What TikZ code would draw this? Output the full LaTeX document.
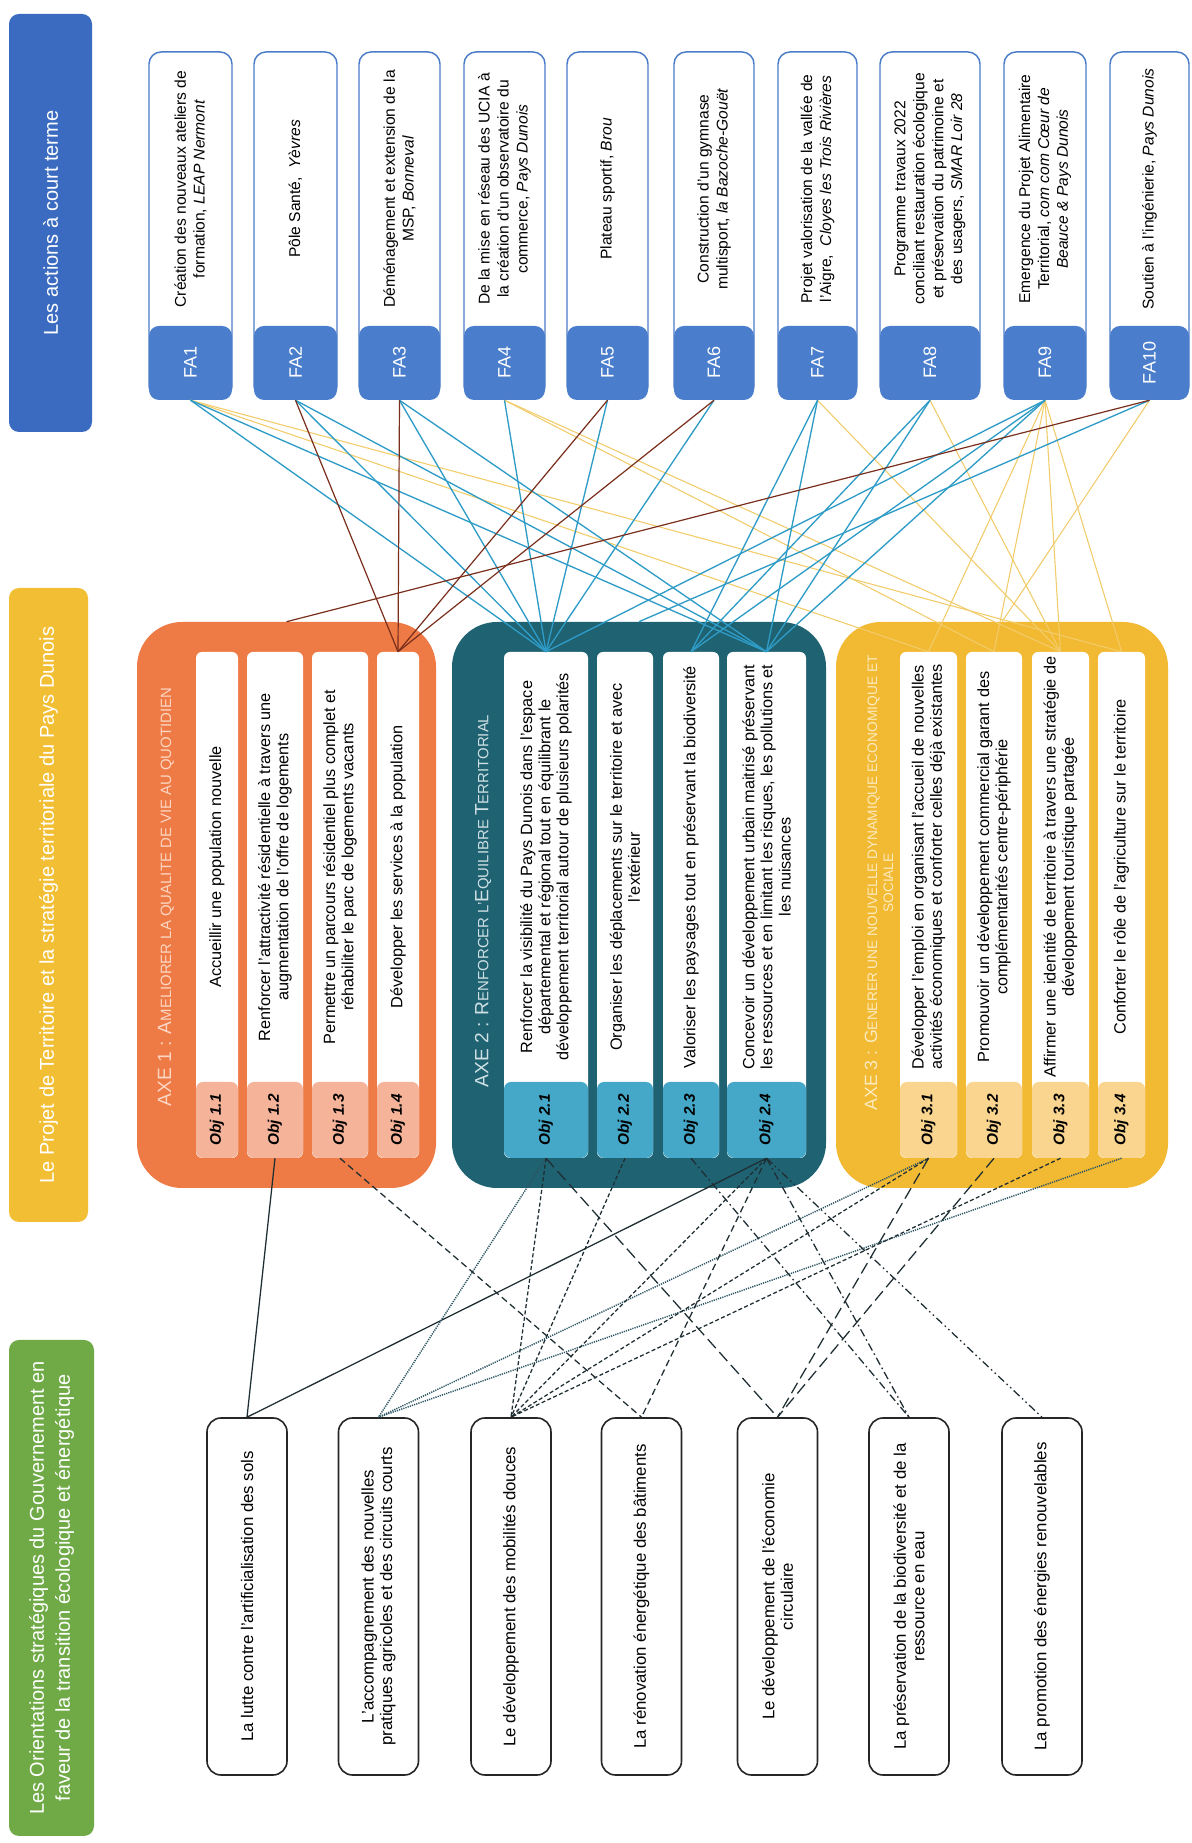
\documentclass[tikz,border=0pt]{standalone}
\usepackage{fontspec}
\setmainfont{Liberation Sans}
\newdimen\pxu \pxu=0.75pt
\definecolor{hblue}{HTML}{3A6BC0}
\definecolor{hyel}{HTML}{F2BE34}
\definecolor{hgreen}{HTML}{6FAA46}
\definecolor{fatabc}{HTML}{4A7ECC}
\definecolor{faline}{HTML}{4A7CC8}
\definecolor{cax1}{HTML}{EE7A45}
\definecolor{cax2}{HTML}{1F6272}
\definecolor{cax3}{HTML}{F2B932}
\definecolor{ctab1}{HTML}{F5B49A}
\definecolor{ctab2}{HTML}{45A8C8}
\definecolor{ctab3}{HTML}{F9D590}
\definecolor{ttl1}{HTML}{FCD6C2}
\definecolor{ttl2}{HTML}{CFE0E4}
\definecolor{ttl3}{HTML}{FDEBC0}
\definecolor{lbrown}{HTML}{7A2E1C}
\definecolor{lblue}{HTML}{2E9CC6}
\definecolor{lyel}{HTML}{F2CC6A}
\definecolor{ldark}{HTML}{1E2E33}
\definecolor{ldot}{HTML}{2C5563}
\newcommand\fhdr{\fontsize{15}{19.5}\selectfont}
\newcommand\ftxt{\fontsize{11.7}{14.2}\selectfont}
\newcommand\frow{\fontsize{12.2}{13.6}\selectfont}
\newcommand\ffa{\fontsize{13.5}{16}\selectfont}
\newcommand\fobj{\fontsize{11.5}{13}\selectfont\bfseries\itshape}
\newcommand\fort{\fontsize{12.6}{14}\selectfont}
\newcommand\ftb{\fontsize{14.4}{16.5}\selectfont}
\newcommand\fts{\fontsize{11.2}{16.5}\selectfont}
\newcommand\ftbb{\fontsize{13.3}{16.5}\selectfont}
\newcommand\ftss{\fontsize{10.3}{16.5}\selectfont}
\begin{document}
\begin{tikzpicture}[x=0.75pt,y=0.75pt,rotate=90,transform shape,
  hdr/.style={rounded corners=10\pxu, text=white, align=center, font=\fhdr, inner sep=0pt},
  fab/.style={draw=faline, line width=1.1pt, fill=white, rounded corners=12\pxu, minimum width=346\pxu, inner sep=0pt},
  fat/.style={fill=fatabc, rounded corners=10\pxu, minimum width=74\pxu, text=white, font=\ffa, inner sep=0pt},
  fax/.style={font=\ftxt, align=center, inner sep=0pt},
  axb/.style={rounded corners=45\pxu, minimum width=566\pxu, inner sep=0pt},
  rowb/.style={fill=white, rounded corners=6\pxu, minimum width=506\pxu, inner sep=0pt},
  otb/.style={rounded corners=7\pxu, minimum width=76\pxu, font=\fobj, inner sep=0pt},
  rtx/.style={font=\frow, align=center, inner sep=0pt},
  orb/.style={draw=black!85, line width=1.2pt, fill=white, rounded corners=14\pxu, minimum width=357\pxu, minimum height=80\pxu, inner sep=0pt, font=\fort, align=center},
  ttl/.style={align=center, inner sep=0pt},
  cb/.style={draw=lbrown, line width=0.9pt},
  cu/.style={draw=lblue, line width=1.0pt},
  cy/.style={draw=lyel, line width=0.8pt},
  b1/.style={draw=ldark, line width=0.95pt},
  b2/.style={draw=ldot, line width=1.1pt, dash pattern=on 0.9pt off 0.8pt},
  b3/.style={draw=ldark, line width=0.95pt, dash pattern=on 3pt off 1.8pt},
  b4/.style={draw=ldark, line width=0.95pt, dash pattern=on 5pt off 3pt},
  b5/.style={draw=ldark, line width=0.95pt, dash pattern=on 9pt off 4pt},
  b6/.style={draw=ldark, line width=0.95pt, dash pattern=on 6pt off 2.5pt on 1.2pt off 2.5pt},
  b7/.style={draw=ldark, line width=0.95pt, dash pattern=on 6pt off 2.5pt on 1.2pt off 2.5pt on 1.2pt off 2.5pt}]
\useasboundingbox (0,-1192) rectangle (1843,0);
\fill[white] (0,-1192) rectangle (1843,0);
% headers
\node[hdr, fill=hblue, minimum width=418\pxu, minimum height=83\pxu] (hA) at (1620,-50.5) {Les actions à court terme};
\node[hdr, fill=hyel, minimum width=634\pxu, minimum height=79\pxu] (hP) at (938,-48.5) {Le Projet de Territoire et la stratégie territoriale du Pays Dunois};
\node[hdr, fill=hgreen, minimum width=496\pxu, minimum height=85\pxu] (hO) at (255,-51.5) {Les Orientations stratégiques du Gouvernement en\\faveur de la transition écologique et énergétique};
% FA boxes
\node[fab, minimum height=83\pxu] (fa1b) at (1618,-190.5) {};
\node[fat, minimum height=83\pxu] (fa1) at (1480,-190.5) {FA1};
\node[fax] (fa1x) at (1654,-190.5) {Création des nouveaux ateliers de\\formation, \textit{LEAP Nermont}};
\node[fab, minimum height=83\pxu] (fa2b) at (1618,-295.5) {};
\node[fat, minimum height=83\pxu] (fa2) at (1480,-295.5) {FA2};
\node[fax] (fa2x) at (1654,-295.5) {Pôle Santé,\ \ \textit{Yèvres}};
\node[fab, minimum height=81\pxu] (fa3b) at (1618,-399.5) {};
\node[fat, minimum height=81\pxu] (fa3) at (1480,-399.5) {FA3};
\node[fax] (fa3x) at (1654,-399.5) {Déménagement et extension de la\\MSP, \textit{Bonneval}};
\node[fab, minimum height=81\pxu] (fa4b) at (1618,-504.5) {};
\node[fat, minimum height=81\pxu] (fa4) at (1480,-504.5) {FA4};
\node[fax] (fa4x) at (1654,-504.5) {De la mise en réseau des UCIA à\\la création d'un observatoire du\\commerce, \textit{Pays Dunois}};
\node[fab, minimum height=81\pxu] (fa5b) at (1618,-607.5) {};
\node[fat, minimum height=81\pxu] (fa5) at (1480,-607.5) {FA5};
\node[fax] (fa5x) at (1654,-607.5) {Plateau sportif, \textit{Brou}};
\node[fab, minimum height=80\pxu] (fa6b) at (1618,-714) {};
\node[fat, minimum height=80\pxu] (fa6) at (1480,-714) {FA6};
\node[fax] (fa6x) at (1654,-714) {Construction d'un gymnase\\multisport, \textit{la Bazoche-Gouët}};
\node[fab, minimum height=79\pxu] (fa7b) at (1618,-817.5) {};
\node[fat, minimum height=79\pxu] (fa7) at (1480,-817.5) {FA7};
\node[fax] (fa7x) at (1654,-817.5) {Projet valorisation de la vallée de\\l'Aigre,\ \ \textit{Cloyes les Trois Rivières}};
\node[fab, minimum height=100\pxu] (fa8b) at (1618,-930) {};
\node[fat, minimum height=100\pxu] (fa8) at (1480,-930) {FA8};
\node[fax] (fa8x) at (1654,-930) {Programme travaux 2022\\conciliant restauration écologique\\et préservation du patrimoine et\\des usagers, \textit{SMAR Loir 28}};
\node[fab, minimum height=82\pxu] (fa9b) at (1618,-1045) {};
\node[fat, minimum height=82\pxu] (fa9) at (1480,-1045) {FA9};
\node[fax] (fa9x) at (1654,-1045) {Emergence du Projet Alimentaire\\Territorial, \textit{com com Cœur de}\\\textit{Beauce \& Pays Dunois}};
\node[fab, minimum height=79\pxu] (fa10b) at (1618,-1149.5) {};
\node[fat, minimum height=79\pxu] (fa10) at (1480,-1149.5) {FA10};
\node[fax] (fa10x) at (1654,-1149.5) {Soutien à l'ingénierie, \textit{Pays Dunois}};
% axis boxes
\node[axb, fill=cax1, minimum height=299\pxu] (ax1) at (938,-286.5) {};
\node[axb, fill=cax2, minimum height=374\pxu] (ax2) at (938,-639) {};
\node[axb, fill=cax3, minimum height=332\pxu] (ax3) at (938,-1002) {};
\node[ttl, text=ttl1] (t1) at (946,-166) {{\ftb AXE 1 : A}{\fts MELIORER LA QUALITE DE VIE AU QUOTIDIEN}};
\node[ttl, text=ttl2] (t2) at (942,-483) {{\ftb AXE 2 : R}{\fts ENFORCER L'}{\ftb E}{\fts QUILIBRE }{\ftb T}{\fts ERRITORIAL}};
\node[ttl, text=ttl3] (t3) at (960,-879) {{\ftbb AXE 3 : G}{\ftss ENERER UNE NOUVELLE DYNAMIQUE ECONOMIQUE ET}\\{\ftss SOCIALE}};
% objective rows
\node[rowb, minimum height=42\pxu] (o11) at (938,-217) {};
\node[otb, fill=ctab1, minimum height=42\pxu] (o11t) at (723,-217) {Obj 1.1};
\node[rtx] (o11x) at (976,-217) {Accueillir une population nouvelle};
\node[rowb, minimum height=56\pxu] (o12) at (938,-275) {};
\node[otb, fill=ctab1, minimum height=56\pxu] (o12t) at (723,-275) {Obj 1.2};
\node[rtx] (o12x) at (976,-275) {Renforcer l'attractivité résidentielle à travers une\\augmentation de l'offre de logements};
\node[rowb, minimum height=56\pxu] (o13) at (938,-340) {};
\node[otb, fill=ctab1, minimum height=56\pxu] (o13t) at (723,-340) {Obj 1.3};
\node[rtx] (o13x) at (976,-340) {Permettre un parcours résidentiel plus complet et\\réhabiliter le parc de logements vacants};
\node[rowb, minimum height=42\pxu] (o14) at (938,-398) {};
\node[otb, fill=ctab1, minimum height=42\pxu] (o14t) at (723,-398) {Obj 1.4};
\node[rtx] (o14x) at (976,-398) {Développer les services à la population};
\node[rowb, minimum height=84\pxu] (o21) at (938,-546) {};
\node[otb, fill=ctab2, minimum height=84\pxu] (o21t) at (723,-546) {Obj 2.1};
\node[rtx] (o21x) at (976,-546) {Renforcer la visibilité du Pays Dunois dans l'espace\\départemental et régional tout en équilibrant le\\développement territorial autour de plusieurs polarités};
\node[rowb, minimum height=56\pxu] (o22) at (938,-625) {};
\node[otb, fill=ctab2, minimum height=56\pxu] (o22t) at (723,-625) {Obj 2.2};
\node[rtx] (o22x) at (976,-625) {Organiser les déplacements sur le territoire et avec\\l'extérieur};
\node[rowb, minimum height=56\pxu] (o23) at (938,-691) {};
\node[otb, fill=ctab2, minimum height=56\pxu] (o23t) at (723,-691) {Obj 2.3};
\node[rtx] (o23x) at (976,-691) {Valoriser les paysages tout en préservant la biodiversité};
\node[rowb, minimum height=79\pxu] (o24) at (938,-766.5) {};
\node[otb, fill=ctab2, minimum height=79\pxu] (o24t) at (723,-766.5) {Obj 2.4};
\node[rtx] (o24x) at (976,-766.5) {Concevoir un développement urbain maitrisé préservant\\les ressources et en limitant les risques, les pollutions et\\les nuisances};
\node[rowb, minimum height=57\pxu] (o31) at (938,-928.5) {};
\node[otb, fill=ctab3, minimum height=57\pxu] (o31t) at (723,-928.5) {Obj 3.1};
\node[rtx] (o31x) at (976,-928.5) {Développer l'emploi en organisant l'accueil de nouvelles\\activités économiques et conforter celles déjà existantes};
\node[rowb, minimum height=56\pxu] (o32) at (938,-994) {};
\node[otb, fill=ctab3, minimum height=56\pxu] (o32t) at (723,-994) {Obj 3.2};
\node[rtx] (o32x) at (976,-994) {Promouvoir un développement commercial garant des\\complémentarités centre-périphérie};
\node[rowb, minimum height=57\pxu] (o33) at (938,-1060.5) {};
\node[otb, fill=ctab3, minimum height=57\pxu] (o33t) at (723,-1060.5) {Obj 3.3};
\node[rtx] (o33x) at (976,-1060.5) {Affirmer une identité de territoire à travers une stratégie de\\développement touristique partagée};
\node[rowb, minimum height=47\pxu] (o34) at (938,-1121.5) {};
\node[otb, fill=ctab3, minimum height=47\pxu] (o34t) at (723,-1121.5) {Obj 3.4};
\node[rtx] (o34x) at (976,-1121.5) {Conforter le rôle de l'agriculture sur le territoire};
% orientations
\node[orb] (or1) at (246.5,-247) {La lutte contre l'artificialisation des sols};
\node[orb] (or2) at (246.5,-378.5) {L'accompagnement des nouvelles\\pratiques agricoles et des circuits courts};
\node[orb] (or3) at (246.5,-511) {Le développement des mobilités douces};
\node[orb] (or4) at (246.5,-641.5) {La rénovation énergétique des bâtiments};
\node[orb] (or5) at (246.5,-777.5) {Le développement de l'économie\\circulaire};
\node[orb] (or6) at (246.5,-909) {La préservation de la biodiversité et de la\\ressource en eau};
\node[orb] (or7) at (246.5,-1042) {La promotion des énergies renouvelables};
% top connectors: yellow
\draw[cy] (fa1.west) -- (o31.east);
\draw[cy] (fa1.west) -- (o34.east);
\draw[cy] (fa4.west) -- (o32.east);
\draw[cy] (fa4.west) -- (o33.east);
\draw[cy] (fa7.west) -- (o33.east);
\draw[cy] (fa8.west) -- (o33.east);
\draw[cy] (fa9.west) -- (o31.east);
\draw[cy] (fa9.west) -- (o32.east);
\draw[cy] (fa9.west) -- (o33.east);
\draw[cy] (fa9.west) -- (o34.east);
\draw[cy] (fa10.west) -- (ax3.east);
% blue
\draw[cu] (fa1.west) -- (o21.east);
\draw[cu] (fa1.west) -- (o24.east);
\draw[cu] (fa2.west) -- (o21.east);
\draw[cu] (fa2.west) -- (o24.east);
\draw[cu] (fa3.west) -- (o21.east);
\draw[cu] (fa3.west) -- (o24.east);
\draw[cu] (fa4.west) -- (o21.east);
\draw[cu] (fa5.west) -- (o21.east);
\draw[cu] (fa6.west) -- (o21.east);
\draw[cu] (fa7.west) -- (o23.east);
\draw[cu] (fa7.west) -- (o24.east);
\draw[cu] (fa8.west) -- (o23.east);
\draw[cu] (fa8.west) -- (o24.east);
\draw[cu] (fa9.west) -- (o21.east);
\draw[cu] (fa9.west) -- (o23.east);
\draw[cu] (fa9.west) -- (o24.east);
\draw[cu] (fa10.west) -- (ax2.east);
% brown
\draw[cb] (fa2.west) -- (o14.east);
\draw[cb] (fa3.west) -- (o14.east);
\draw[cb] (fa5.west) -- (o14.east);
\draw[cb] (fa6.west) -- (o14.east);
\draw[cb] (fa10.west) -- (ax1.east);
% bottom connectors
\draw[b1] (o12.west) -- (or1.east);
\draw[b1] (o24.west) -- (or1.east);
\draw[b2] (o21.west) -- (or2.east);
\draw[b2] (o31.west) -- (or2.east);
\draw[b2] (o34.west) -- (or2.east);
\draw[b3] (o21.west) -- (or3.east);
\draw[b3] (o22.west) -- (or3.east);
\draw[b3] (o24.west) -- (or3.east);
\draw[b3] (o31.west) -- (or3.east);
\draw[b3] (o33.west) -- (or3.east);
\draw[b4] (o13.west) -- (or4.east);
\draw[b4] (o24.west) -- (or4.east);
\draw[b5] (o21.west) -- (or5.east);
\draw[b5] (o31.west) -- (or5.east);
\draw[b5] (o32.west) -- (or5.east);
\draw[b6] (o23.west) -- (or6.east);
\draw[b6] (o24.west) -- (or6.east);
\draw[b7] (o24.west) -- (or7.east);
\end{tikzpicture}
\end{document}
